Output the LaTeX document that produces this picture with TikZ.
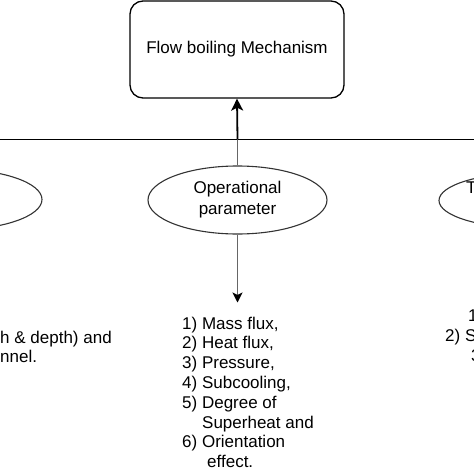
\documentclass[tikz,border=0pt]{standalone}
\usepackage{fontspec}
\setmainfont{Liberation Sans}
\usetikzlibrary{shapes.geometric,arrows.meta}
\definecolor{linegray}{rgb}{.4,.4,.4}
\definecolor{edgegray}{rgb}{.2,.2,.2}

\begin{document}
\begin{tikzpicture}[x=1pt,y=-1pt]

\tikzset{
box/.style={rectangle,rounded corners=13pt,minimum width=214pt,minimum height=97pt,draw=black,line width=1.3pt,font=\fontsize{17}{20}\selectfont},
oval/.style={ellipse,draw=edgegray,line width=1.1pt,minimum width=179pt,minimum height=68pt,inner sep=0pt,align=center,font=\fontsize{17}{21}\selectfont},
list/.style={inner sep=0pt,align=left,font=\fontsize{17}{19.8}\selectfont}
}

\useasboundingbox (0,0) rectangle (474,474);

\node[box] (flow-boiling) at (237,49.5) {Flow boiling Mechanism};

\node[oval,minimum height=61pt] (channel-parameter) at (-47.5,199.5) {};
\node[oval] (operational-parameter) at (237.5,200) {Operational\\parameter};
\node[oval,minimum height=55pt] (thermo-parameter) at (528.5,200.5) {};
\node[list,anchor=west] (thermo-label) at (466,188) {T};

\coordinate (bus-west) at (-5,139.3);
\coordinate (bus-east) at (479,139.3);
\coordinate (bus-join) at (237.5,139.3);
\coordinate (list-top) at (237.5,302.5);

\draw[line width=1.3pt] (bus-west)--(bus-east);
\draw[draw=linegray,line width=1.2pt] (operational-parameter.north)--(bus-join);
\draw[-{Stealth[length=12pt,width=12pt,inset=3pt]},line width=1.8pt] (bus-join)--(flow-boiling.south);
\draw[draw=linegray,line width=1.2pt,-{Stealth[length=10pt,width=10pt,inset=2.5pt,color=black]}] (operational-parameter.south)--(list-top);

\node[list,anchor=north west] (channel-list) at (0,330.6) {h \& depth) and\\nnel.};
\node[list,anchor=north west] (operational-list) at (182,316.6) {1) Mass flux,\\2) Heat flux,\\3) Pressure,\\4) Subcooling,\\5) Degree of\\\hspace{20pt}Superheat and\\6) Orientation\\\hspace{25pt}effect.};
\node[list,anchor=north west] (thermo-list) at (445,309.8) {\hspace{23pt}1\\2) S\\\hspace{26pt}3};

\end{tikzpicture}
\end{document}
